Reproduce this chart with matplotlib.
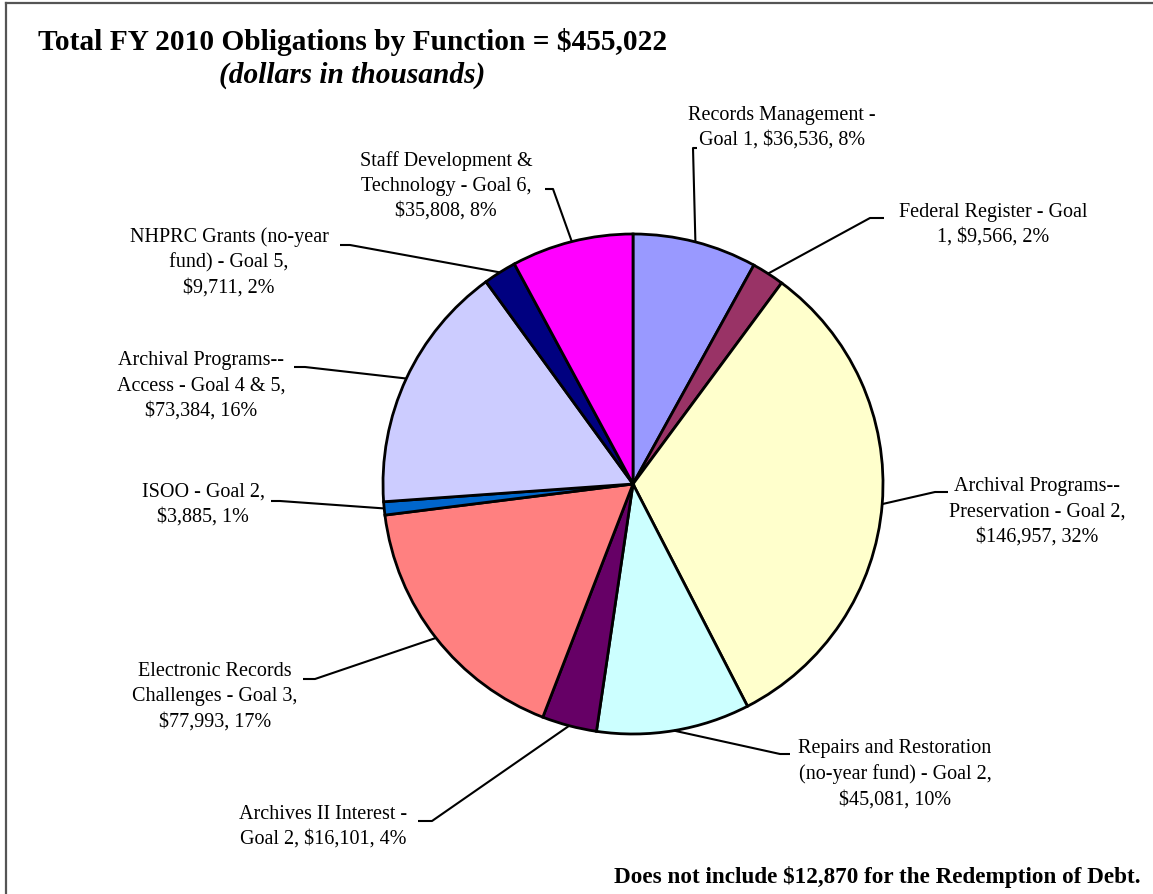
import numpy as np
import matplotlib
matplotlib.use("Agg")
import matplotlib.pyplot as plt

plt.rcParams['font.family'] = ['Liberation Serif', 'DejaVu Serif']

# FY 2010 obligations (dollars in thousands), clockwise from 12 o'clock
functions = [
    "Records Management -\nGoal 1",
    "Federal Register - Goal\n1",
    "Archival Programs--\nPreservation - Goal 2",
    "Repairs and Restoration\n(no-year fund) - Goal 2",
    "Archives II Interest -\nGoal 2",
    "Electronic Records\nChallenges - Goal 3",
    "ISOO - Goal 2",
    "Archival Programs--\nAccess - Goal 4 & 5",
    "NHPRC Grants (no-year\nfund) - Goal 5",
    "Staff Development &\nTechnology - Goal 6",
]
amounts = [36536, 9566, 146957, 45081, 16101, 77993, 3885, 73384, 9711, 35808]
colors = ["#9999FF", "#993366", "#FFFFCC", "#CCFFFF", "#660066",
          "#FF8080", "#0066CC", "#CCCCFF", "#000080", "#FF00FF"]

# label text as drawn on the chart (line breaks as in the original)
label_text = [
    "Records Management -\nGoal 1, $36,536, 8%",
    "Federal Register - Goal\n1, $9,566, 2%",
    "Archival Programs--\nPreservation - Goal 2,\n$146,957, 32%",
    "Repairs and Restoration\n(no-year fund) - Goal 2,\n$45,081, 10%",
    "Archives II Interest -\nGoal 2, $16,101, 4%",
    "Electronic Records\nChallenges - Goal 3,\n$77,993, 17%",
    "ISOO - Goal 2,\n$3,885, 1%",
    "Archival Programs--\nAccess - Goal 4 & 5,\n$73,384, 16%",
    "NHPRC Grants (no-year\nfund) - Goal 5,\n$9,711, 2%",
    "Staff Development &\nTechnology - Goal 6,\n$35,808, 8%",
]

W, H = 1153, 895
fig = plt.figure(figsize=(W / 100, H / 100), dpi=100)
ax = fig.add_axes([0, 0, 1, 1])
ax.set_xlim(0, W)
ax.set_ylim(0, H)
ax.set_aspect("equal")
ax.axis("off")

cx, cy, r = 633, H - 485, 250
wedges, _ = ax.pie(amounts, colors=colors, startangle=90, counterclock=False,
                   center=(cx, cy), radius=r, frame=True,
                   wedgeprops=dict(edgecolor="black", linewidth=2.0))
ax.set_xlim(0, W)
ax.set_ylim(0, H)
ax.axis("off")

# label layout in pixel coords (top-left origin): text centre, elbow, tick end
text_pos = [(782, 128), (993, 225), (1037, 512), (895, 774), (323, 827),
            (215, 697), (203, 505), (201, 386), (229, 262), (446, 186)]
elbow = [(693, 149), (870, 219), (935, 493), (780, 755), (432, 822),
         (315, 680), (280, 502), (305, 368), (350, 246), (553, 190)]
tick_end = [(697, 149), (884, 219), (948, 493), (790, 755), (418, 822),
            (303, 680), (271, 502), (294, 368), (340, 246), (545, 190)]

for w, txt, tp, el, te in zip(wedges, label_text, text_pos, elbow, tick_end):
    mid = np.deg2rad((w.theta1 + w.theta2) / 2)
    ex, ey = cx + r * np.cos(mid), cy + r * np.sin(mid)
    ax.plot([ex, el[0], te[0]], [ey, H - el[1], H - te[1]],
            color="black", lw=1.5, solid_capstyle="butt")
    ax.text(tp[0], H - tp[1], txt, ha="center", va="center",
            multialignment="center", fontsize=14.5, linespacing=1.43)

ax.text(353, H - 42, "Total FY 2010 Obligations by Function = $455,022",
        ha="center", va="center", fontsize=21.2, fontweight="bold")
ax.text(352, H - 75, "(dollars in thousands)", ha="center", va="center",
        fontsize=21.2, fontweight="bold", fontstyle="italic")
ax.text(1140, H - 883, "Does not include $12,870 for the Redemption of Debt.",
        ha="right", va="baseline", fontsize=16.7, fontweight="bold")

# chart frame (top and left edges visible)
ax.plot([6, W], [H - 4, H - 4], color="#555555", lw=1.6)
ax.plot([6, 6], [0, H - 4], color="#555555", lw=1.6)

fig.savefig("out.png", dpi=100)
